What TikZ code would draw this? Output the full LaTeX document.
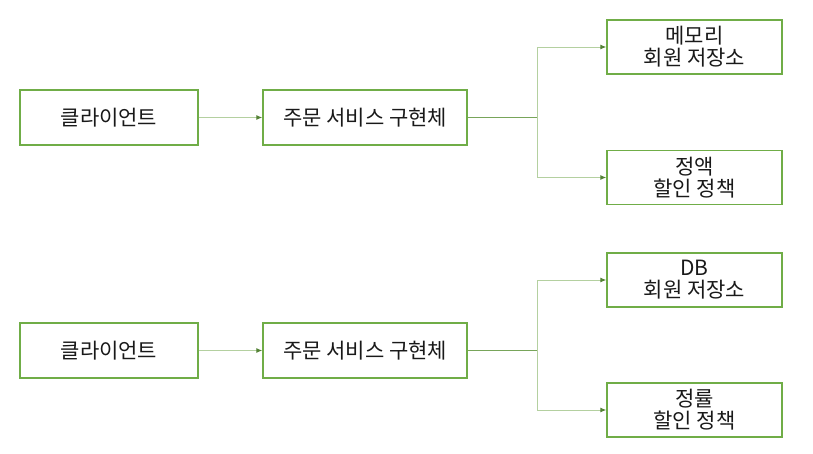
\documentclass[tikz,border=0pt]{standalone}
\usepackage{fontspec}
\setmainfont{Noto Sans CJK KR}
\usepackage{tikz}
\usetikzlibrary{positioning,arrows.meta,calc}
\definecolor{boxc}{RGB}{112,173,71}
\definecolor{stemc}{RGB}{120,165,90}
\definecolor{branchc}{RGB}{180,208,160}
\definecolor{tipc}{RGB}{84,130,53}
\definecolor{textc}{RGB}{25,25,25}
\tikzset{
  unit/.style   = {draw=boxc, line width=1.4pt, fill=white, align=center,
                   text=textc, font=\fontsize{21}{22}\selectfont,
                   minimum height=55pt, inner sep=1pt},
  client/.style = {unit, minimum width=178pt},
  service/.style= {unit, minimum width=204pt},
  part/.style   = {unit, minimum width=175pt, minimum height=54pt},
  stem/.style   = {draw=stemc, line width=1pt},
  flow/.style   = {-{Latex[length=6pt,width=5pt,color=tipc]}, draw=branchc, line width=1pt},
}
\begin{document}
\begin{tikzpicture}[x=1pt,y=-1pt]
\useasboundingbox (0,0) rectangle (813,453);

% fixed discount, memory repository
\node[client]  (cli1) at (109,117.5) {클라이언트};
\node[service] (svc1) at (365,117.5) {주문 서비스 구현체};
\node[part]    (mem1) at (694.5,47)  {메모리\\회원 저장소};
\node[part]    (fix1) at (694.5,177.5) {정액\\할인 정책};
\coordinate (split1) at (537,117.5);

\draw[flow] (cli1) -- (svc1);
\draw[stem] (svc1) -- (split1);
\draw[flow] (split1) |- (mem1);
\draw[flow] (split1) |- (fix1);

% rate discount, DB repository
\node[client]  (cli2) at (109,350.5) {클라이언트};
\node[service] (svc2) at (365,350.5) {주문 서비스 구현체};
\node[part]    (db2)  at (694.5,280) {DB\\회원 저장소};
\node[part]    (rate2) at (694.5,410) {정률\\할인 정책};
\coordinate (split2) at (537,350.5);

\draw[flow] (cli2) -- (svc2);
\draw[stem] (svc2) -- (split2);
\draw[flow] (split2) |- (db2);
\draw[flow] (split2) |- (rate2);

\end{tikzpicture}
\end{document}
